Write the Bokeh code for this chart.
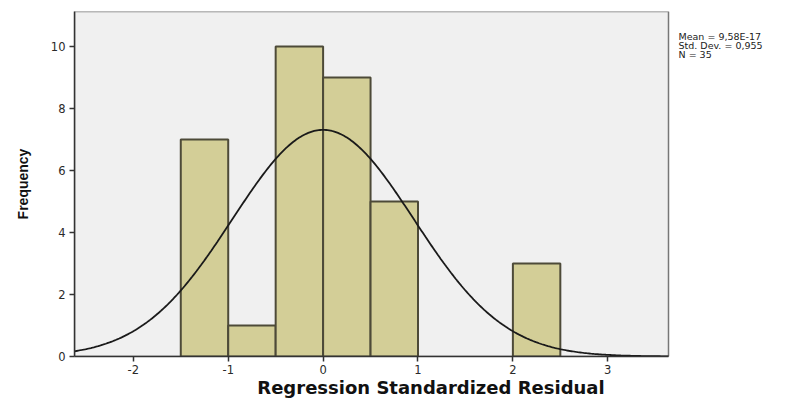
import numpy as np
from bokeh.plotting import figure
from bokeh.models import Range1d, FixedTicker
from bokeh.core.properties import value
from bokeh.embed import file_html
from bokeh.resources import INLINE

# Histogram bins (left edges, right edges) and frequencies
bin_left = [-1.5, -1.0, -0.5, 0.0, 0.5, 2.0]
bin_right = [-1.0, -0.5, 0.0, 0.5, 1.0, 2.5]
freq = [7, 1, 10, 9, 5, 3]

# Summary statistics shown in the chart
mean = 9.58e-17
std_dev = 0.955
n_obs = 35
bin_width = 0.5
stats_lines = ["Mean = 9,58E-17", "Std. Dev. = 0,955", "N = 35"]

x_ticks = [-2, -1, 0, 1, 2, 3]
y_ticks = [0, 2, 4, 6, 8, 10]

# axis extents of the histogram panel
x_min, x_max = -2.62, 3.64
y_min, y_max = 0, 11.13

panel_px = 594
frame_w = 713
x_end = x_min + (x_max - x_min) * frame_w / panel_px

p = figure(width=787, height=393, output_backend="svg", toolbar_location=None,
           x_range=Range1d(x_min, x_end), y_range=Range1d(y_min, y_max),
           min_border_left=74, min_border_top=11, min_border_right=0,
           min_border_bottom=37)
p.frame_width = frame_w
p.frame_height = 345

p.background_fill_color = "white"
p.border_fill_color = "white"
p.outline_line_color = None
p.grid.visible = False

# panel background with border
p.quad(left=[x_min], right=[x_max], bottom=[y_min], top=[y_max],
       fill_color="#f0f0f0", line_color="#777777", line_width=1.5)

p.quad(left=bin_left, right=bin_right, bottom=0, top=freq,
       fill_color="#d3ce97", line_color="#4d4a38", line_width=2)

# Normal curve from the stated statistics
xs = np.linspace(x_min, x_max, 400)
ys = n_obs * bin_width / (std_dev * np.sqrt(2 * np.pi)) * np.exp(-0.5 * ((xs - mean) / std_dev) ** 2)
p.line(xs, ys, line_color="#1a1a1a", line_width=1.8)

# stats text to the right of the panel
y_px = (y_max - y_min) / 345
p.text(x=[x_max + 10 * (x_max - x_min) / panel_px] * 3,
       y=[y_max - (36 - 11) * y_px, y_max - (45 - 11) * y_px, y_max - (54 - 11) * y_px],
       text=stats_lines, text_font=value("DejaVu Sans"), text_font_size=value("9.5px"),
       text_color="#222222", text_baseline="alphabetic", text_align="left")

for ax in (p.xaxis[0], p.yaxis[0]):
    ax.axis_line_color = "#333333"
    ax.axis_line_width = 1.5
    ax.major_tick_line_color = "#333333"
    ax.major_tick_line_width = 1.5
    ax.major_tick_in = 0
    ax.major_tick_out = 5
    ax.minor_tick_line_color = None
    ax.major_label_text_font = "DejaVu Sans"
    ax.major_label_text_font_size = "11.5px"
    ax.major_label_text_color = "#2a2a2a"
    ax.axis_label_text_font_style = "bold"
    ax.axis_label_text_color = "#111111"

p.xaxis.bounds = (x_min, x_max)
p.xaxis.ticker = FixedTicker(ticks=x_ticks)
p.yaxis.ticker = FixedTicker(ticks=y_ticks)
p.xaxis.major_label_overrides = {t: str(t) for t in x_ticks}
p.xaxis.major_label_standoff = 3
p.yaxis.major_label_standoff = 4
p.xaxis.axis_label = "Regression Standardized Residual"
p.xaxis.axis_label_text_font = "DejaVu Sans"
p.xaxis.axis_label_text_font_size = "18px"
p.xaxis.axis_label_standoff = 0
p.yaxis.axis_label = "Frequency"
p.yaxis.axis_label_text_font = "Liberation Sans"
p.yaxis.axis_label_text_font_size = "14px"
p.yaxis.axis_label_standoff = 17

open("out.html", "w").write(file_html(p, INLINE))
